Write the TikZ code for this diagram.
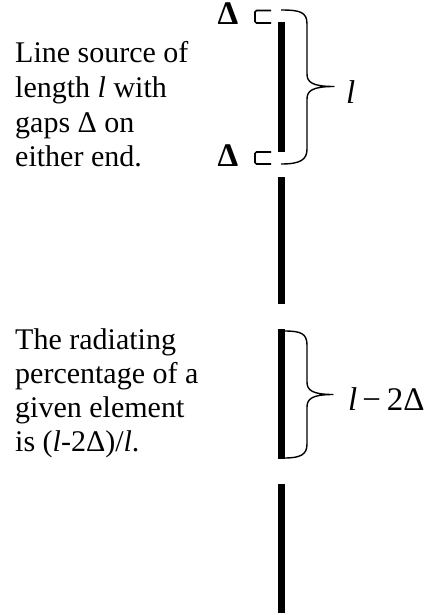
\documentclass[tikz,border=0pt]{standalone}
\usepackage{fontspec}
\setmainfont{Liberation Serif}
\begin{document}
\begin{tikzpicture}[x=1pt,y=-1pt,
  bar/.style={line width=7pt},
  brace/.style={line width=1.4pt, line join=round},
  gapmark/.style={line width=1.6pt, rounded corners=1.5pt},
  txt/.style={anchor=base west, inner sep=0pt, font=\fontsize{30}{34.5}\selectfont},
  dlabel/.style={anchor=base, inner sep=0pt, font=\fontsize{33}{36}\selectfont\bfseries},
  mlabel/.style={anchor=base west, inner sep=0pt, font=\fontsize{33}{36}\selectfont}]
\useasboundingbox (0,0) rectangle (438,615);
% bars
\coordinate (b1t) at (281.5,22); \coordinate (b1b) at (281.5,152);
\coordinate (b2t) at (281.5,177); \coordinate (b2b) at (281.5,304);
\coordinate (b3t) at (281.5,329); \coordinate (b3b) at (281.5,459);
\coordinate (b4t) at (281.5,484); \coordinate (b4b) at (281.5,613);
\draw[bar] (b1t) -- (b1b);
\draw[bar] (b2t) -- (b2b);
\draw[bar] (b3t) -- (b3b);
\draw[bar] (b4t) -- (b4b);
% gap marks
\draw[gapmark] (271,10.5) -- (255,10.5) -- (255,23) -- (271,23);
\draw[gapmark] (271,152) -- (255,152) -- (255,164) -- (271,164);
\node[dlabel] (d1) at (228,25) {Δ};
\node[dlabel] (d2) at (228,166) {Δ};
% brace 1
\draw[brace] (281,10) .. controls (300,10) and (307,12) .. (307,24) -- (307,74)
  .. controls (307,82) and (312,86.5) .. (334,86.5)
  .. controls (312,86.5) and (307,91) .. (307,99) -- (307,149)
  .. controls (307,160) and (300,164) .. (281,164);
\node[mlabel] (l1) at (346,103) {\itshape l};
% brace 2
\draw[brace] (284,331) .. controls (300,331) and (307,333) .. (307,345) -- (307,382)
  .. controls (307,390) and (312,394.5) .. (333,394.5)
  .. controls (312,394.5) and (307,399) .. (307,407) -- (307,444)
  .. controls (307,455) and (300,458) .. (284,458);
\node[mlabel] (l2) at (348,410) {{\itshape l}\hspace{5pt}−\hspace{6pt}2Δ};
% left texts
\node[txt] (a1) at (15,63) {Line source of};
\node[txt] (a2) at (15,97.5) {length \textit{l} with};
\node[txt] (a3) at (15,132) {gaps Δ on};
\node[txt] (a4) at (15,166.5) {either end.};
\node[txt] (c1) at (15,349) {The radiating};
\node[txt] (c2) at (15,383) {percentage of a};
\node[txt] (c3) at (15,417) {given element};
\node[txt] (c4) at (15,451) {is (\textit{l}-2Δ)/\textit{l}.};
\end{tikzpicture}
\end{document}
